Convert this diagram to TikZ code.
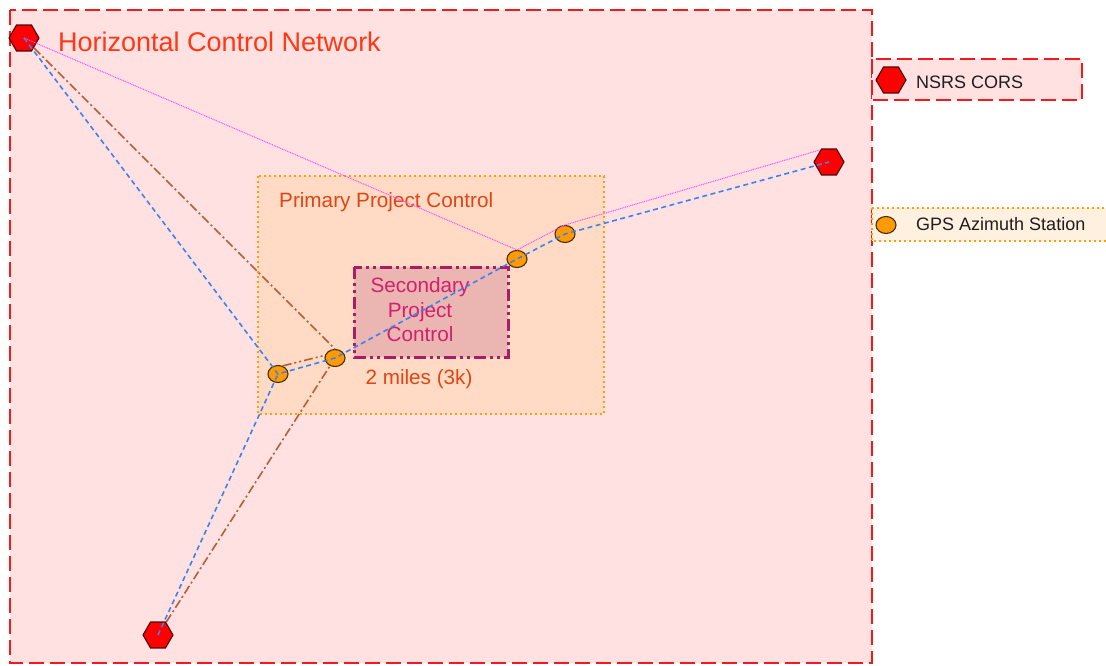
\documentclass[tikz,border=0pt]{standalone}
\usepackage{fontspec}
\setmainfont{Liberation Sans}
\usetikzlibrary{shapes.geometric}
\definecolor{hcnfill}{RGB}{255,225,225}
\definecolor{hcnred}{RGB}{245,25,25}
\definecolor{titlered}{RGB}{255,55,20}
\definecolor{ppcfill}{RGB}{255,218,196}
\definecolor{ppcedge}{RGB}{255,160,0}
\definecolor{ppctext}{RGB}{222,70,20}
\definecolor{spcfill}{RGB}{235,181,178}
\definecolor{spcedge}{RGB}{168,30,100}
\definecolor{spctext}{RGB}{212,30,110}
\definecolor{gpsfill}{RGB}{255,240,224}
\definecolor{corsred}{RGB}{255,0,0}
\definecolor{corsedge}{RGB}{70,10,10}
\definecolor{gpsorange}{RGB}{255,155,0}
\definecolor{gpsedge}{RGB}{70,45,10}
\definecolor{lineblue}{RGB}{60,130,240}
\definecolor{linepink}{RGB}{255,80,255}
\definecolor{linebrown}{RGB}{180,95,55}
\definecolor{legtext}{RGB}{30,30,30}
\tikzset{
  cors/.style={regular polygon, regular polygon sides=6, minimum size=30pt, inner sep=0pt, fill=corsred, draw=corsedge, line width=1.1pt},
  gps/.style={ellipse, minimum width=20pt, minimum height=17pt, inner sep=0pt, fill=gpsorange, draw=gpsedge, line width=1.1pt},
  hcnbox/.style={fill=hcnfill, draw=hcnred, line width=2.8pt, dash pattern=on 15pt off 6pt},
  ppcbox/.style={fill=ppcfill, draw=ppcedge, line width=2.6pt, dash pattern=on 2.2pt off 2.8pt},
  spcbox/.style={fill=spcfill, draw=spcedge, line width=3pt, dash pattern=on 12pt off 4pt on 3pt off 4pt on 3pt off 4pt},
  gpslegbox/.style={fill=gpsfill, draw=ppcedge, line width=2.6pt, dash pattern=on 2.2pt off 2.8pt},
  blueline/.style={draw=lineblue, line width=1.6pt, dash pattern=on 5pt off 3.5pt},
  pinkline/.style={draw=linepink, line width=1pt, dash pattern=on 1pt off 0.8pt},
  brownline/.style={draw=linebrown, line width=1.6pt, dash pattern=on 9pt off 3pt on 2pt off 3pt},
  brownddline/.style={draw=linebrown, line width=1.6pt, dash pattern=on 9pt off 3pt on 2pt off 3pt on 2pt off 3pt},
  lbl/.style={inner sep=0pt, font=\fontsize{20.7}{24.5}\selectfont},
  leg/.style={inner sep=0pt, anchor=west, text=legtext, font=\fontsize{18}{21}\selectfont},
}
\begin{document}
\begin{tikzpicture}[x=1pt,y=-1pt]
\useasboundingbox (0,0) rectangle (1106,666);
\clip (0,0) rectangle (1106,666);
% boxes
\path[hcnbox] (10,10) rectangle (872,663);
\path[hcnbox] (872,59) rectangle (1082,100);
\path[gpslegbox] (872,208) rectangle (1115,241);
\path[ppcbox] (258,176) rectangle (604,414);
\path[spcbox] (354,267) rectangle (508,357);
% texts
\node[inner sep=0pt, anchor=west, text=titlered, font=\fontsize{27}{30}\selectfont] (title) at (58,42) {Horizontal Control Network};
\node[lbl, anchor=west, text=ppctext] (ppclabel) at (279,202) {Primary Project Control};
\node[lbl, align=center, text=spctext] (spclabel) at (420,310) {Secondary\\Project\\Control};
\node[lbl, text=ppctext] (dist) at (419,379) {2 miles (3k)};
\node[leg] (nsrstext) at (916,82) {NSRS CORS};
\node[leg] (gpstext) at (916,224) {GPS Azimuth Station};
% stations
\node[cors] (h1) at (24,38) {};
\node[cors] (h2) at (829,162) {};
\node[cors] (h3) at (158,635) {};
\node[cors] (legcors) at (891,80) {};
\node[gps] (a) at (278,374) {};
\node[gps] (b) at (335,358) {};
\node[gps] (c) at (517,259) {};
\node[gps] (d) at (565,234) {};
\node[gps] (leggps) at (886,225) {};
% connectors
\draw[pinkline] (h1.center) -- (c.north) -- (d.north) -- (h2.125);
\draw[brownline] (h1) -- (b.north);
\draw[brownline] (h3) -- (b);
\draw[brownddline] (a.60) -- (b.165);
\draw[blueline] (h1.center) -- (a.center) -- (b.center) -- (c.center) -- (d.center) -- (h2.center);
\draw[blueline] (h3.center) -- (a.center);
\end{tikzpicture}
\end{document}
